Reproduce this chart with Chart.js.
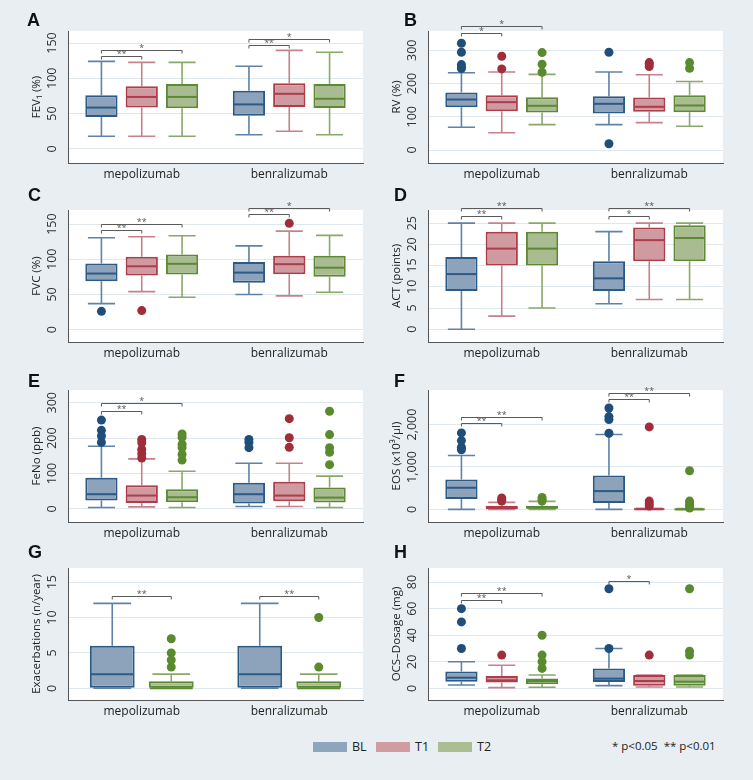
<!DOCTYPE html>
<html>
<head>
<meta charset="utf-8">
<script src="https://cdn.jsdelivr.net/npm/chart.js@4.4.0/dist/chart.umd.min.js"></script>
<style>
  body { margin: 0; width: 753px; height: 780px; background: #e8eef1; position: relative; overflow: hidden; font-family: "Open Sans", sans-serif; }
  canvas { position: absolute; }
  .sw { position: absolute; top: 742px; width: 34px; height: 10px; }
  .lg { position: absolute; top: 738px; font-size: 12.5px; color: #222; }
</style>
</head>
<body>
<canvas id="cA" width="376" height="180" style="left:0;top:0"></canvas>
<canvas id="cB" width="393" height="180" style="left:360px;top:0"></canvas>
<canvas id="cC" width="376" height="180" style="left:0;top:179px"></canvas>
<canvas id="cD" width="393" height="180" style="left:360px;top:179px"></canvas>
<canvas id="cE" width="376" height="180" style="left:0;top:359px"></canvas>
<canvas id="cF" width="393" height="180" style="left:360px;top:359px"></canvas>
<canvas id="cG" width="376" height="180" style="left:0;top:537px"></canvas>
<canvas id="cH" width="393" height="180" style="left:360px;top:537px"></canvas>

<div class="sw" style="left:313px;background:#8fa5bd"></div><div class="lg" style="left:352px">BL</div>
<div class="sw" style="left:376px;background:#d09ba1"></div><div class="lg" style="left:415px">T1</div>
<div class="sw" style="left:438px;background:#abbd93"></div><div class="lg" style="left:477px">T2</div>
<div class="lg" style="left:612px;font-size:11.5px">* p&lt;0.05 &nbsp;** p&lt;0.01</div>

<script>
const groups = ['mepolizumab', 'benralizumab'];

// box stats per group: [min, q1, median, q3, max]  (mepolizumab, benralizumab)
const fev1BL = [[18, 45, 58.5, 76, 124], [20, 47, 63, 82.5, 117]];
const fev1T1 = [[18, 58.5, 73.6, 88.7, 122.6], [25, 59.4, 78, 93, 139.6]];
const fev1T2 = [[18, 57.5, 73.6, 92, 122.6], [20, 58, 71, 92, 136.8]];
const fev1Sig = [[0, 0, 1, 132, '**'], [0, 0, 2, 140.6, '*'], [1, 0, 1, 147, '**'], [1, 0, 2, 155.7, '*']];
const fev1Ticks = [0, 50, 100, 150];

const rvBL = [[68.5, 129, 152, 173, 232.5], [76.5, 110, 139, 162, 234.5]];
const rvT1 = [[52, 117, 144, 165, 234.5], [82.5, 115, 130, 158, 226.5]];
const rvT2 = [[76.5, 113, 133, 159, 227.5], [71.5, 114, 134, 165, 206]];
const rvOutBL = [[321, 294, 257, 250, 245], [294, 19]];
const rvOutT1 = [[282, 244], [263, 259, 251]];
const rvOutT2 = [[293, 258, 234], [263, 246]];
const rvSig = [[0, 0, 1, 351, '*'], [0, 0, 2, 372, '*']];
const rvTicks = [0, 100, 200, 300];

const fvcBL = [[37, 68.8, 79.7, 94, 130.5], [50, 66.5, 81, 96, 119]];
const fvcT1 = [[54, 77, 90, 103.5, 132], [48, 78.8, 93, 105, 140]];
const fvcT2 = [[46, 78.3, 93.5, 106.8, 133.4], [53, 75, 88, 105, 134]];
const fvcOutBL = [[26], []];
const fvcOutT1 = [[27], [151]];
const fvcSig = [[0, 0, 1, 141.5, '**'], [0, 0, 2, 150, '**'], [1, 0, 1, 164, '**'], [1, 0, 2, 173, '*']];
const fvcTicks = [0, 50, 100, 150];

const actBL = [[0, 9, 13, 17, 25], [6, 9, 12, 16, 23]];
const actT1 = [[3.1, 15, 19, 23, 25], [7, 16, 21, 24, 25]];
const actT2 = [[5, 15, 19, 23, 25], [7, 16, 21.5, 24.5, 25]];
const actSig = [[0, 0, 1, 26.8, '**'], [0, 0, 2, 28.5, '**'], [1, 0, 1, 26.8, '*'], [1, 0, 2, 28.5, '**']];
const actTicks = [0, 5, 10, 15, 20, 25];

const fenoBL = [[4, 23.6, 41.5, 88, 177], [6.6, 15, 41.5, 73.6, 129]];
const fenoT1 = [[5.7, 17, 37.7, 67, 141.5], [6.6, 21.7, 37.7, 76.4, 129]];
const fenoT2 = [[4, 18.9, 33, 55.7, 106.6], [3.8, 18, 32, 60.4, 92.5]];
const fenoOutBL = [[251, 222, 206, 188], [196, 188, 173]];
const fenoOutT1 = [[196, 187, 168, 156, 144], [255, 201, 174]];
const fenoOutT2 = [[212, 202, 182, 173, 154, 138], [276, 210, 173, 160, 125]];
const fenoSig = [[0, 0, 1, 276, '**'], [0, 0, 2, 298, '*']];
const fenoTicks = [0, 100, 200, 300];

const eosBL = [[0, 243, 510, 706, 1270], [0, 149, 431, 800, 1765]];
const eosT1 = [[0, 8, 31, 86, 165], [0, 0, 5, 20, 24]];
const eosT2 = [[0, 16, 39, 86, 188], [0, 0, 0, 10, 20]];
const eosOutBL = [[1804, 1623, 1467, 1404], [2392, 2188, 2118, 1796]];
const eosOutT1 = [[267, 227, 196], [1945, 196, 133, 78]];
const eosOutT2 = [[282, 235, 196], [910, 196, 133, 78, 31]];
const eosSig = [[0, 0, 1, 2031, '**'], [0, 0, 2, 2172, '**'], [1, 0, 1, 2596, '**'], [1, 0, 2, 2745, '**']];
const eosTicks = [0, 1000, 2000];

const exaBL = [[0, 0, 2, 6, 12], [0, 0, 2, 6, 12]];
const exaT2 = [[0, 0, 0, 1, 2], [0, 0, 0, 1, 2]];
const exaOutT2 = [[7, 5, 4, 3], [10, 3]];
const exaSig = [[0, 0, 1, 13, '**'], [1, 0, 1, 13, '**']];
const exaTicks = [0, 5, 10, 15];

const ocsBL = [[2.5, 5, 8, 12.6, 20], [2, 4.8, 7.3, 15, 30]];
const ocsT1 = [[0.5, 4.3, 6, 9.3, 17.4], [1, 2, 5.5, 10, 10]];
const ocsT2 = [[0.75, 3, 5.5, 7.3, 10], [1, 2, 5, 10, 10]];
const ocsOutBL = [[60, 50, 30], [75, 30]];
const ocsOutT1 = [[25], [25]];
const ocsOutT2 = [[40, 25, 20, 15], [75, 28, 25]];
const ocsSig = [[0, 0, 1, 66.7, '**'], [0, 0, 2, 71.5, '**'], [1, 0, 1, 81, '*']];
const ocsTicks = [0, 20, 40, 60, 80];

const none = [[], []];

const colors = {
  BL: { fill: '#8ca3bb', line: '#2b5a87', whisker: '#5f82a6', dot: '#1f4e7a' },
  T1: { fill: '#cf9aa0', line: '#ad3d4b', whisker: '#c5828c', dot: '#a02d3a' },
  T2: { fill: '#a9bb90', line: '#5d8935', whisker: '#8aa86a', dot: '#5a8a2e' }
};

const panels = [
  { id: 'cA', letter: 'A', lx: 27, ly: 26, title: 'FEV\u2081 (%)', series: ['BL', 'T1', 'T2'],
    box: [fev1BL, fev1T1, fev1T2], out: [none, none, none], sig: fev1Sig, ticks: fev1Ticks, min: -20, max: 167 },
  { id: 'cB', letter: 'B', lx: 44, ly: 26, title: 'RV (%)', series: ['BL', 'T1', 'T2'],
    box: [rvBL, rvT1, rvT2], out: [rvOutBL, rvOutT1, rvOutT2], sig: rvSig, ticks: rvTicks, min: -39, max: 358 },
  { id: 'cC', letter: 'C', lx: 28, ly: 22, title: 'FVC (%)', series: ['BL', 'T1', 'T2'],
    box: [fvcBL, fvcT1, fvcT2], out: [fvcOutBL, fvcOutT1, none], sig: fvcSig, ticks: fvcTicks, min: -17.6, max: 170 },
  { id: 'cD', letter: 'D', lx: 34, ly: 22, title: 'ACT (points)', series: ['BL', 'T1', 'T2'],
    box: [actBL, actT1, actT2], out: [none, none, none], sig: actSig, ticks: actTicks, min: -3, max: 28.1 },
  { id: 'cE', letter: 'E', lx: 28, ly: 28, title: 'FeNo (ppb)', series: ['BL', 'T1', 'T2'],
    box: [fenoBL, fenoT1, fenoT2], out: [fenoOutBL, fenoOutT1, fenoOutT2], sig: fenoSig, ticks: fenoTicks, min: -37, max: 336 },
  { id: 'cF', letter: 'F', lx: 34, ly: 28, title: 'EOS (x10\u00b3/\u00b5l)', series: ['BL', 'T1', 'T2'],
    box: [eosBL, eosT1, eosT2], out: [eosOutBL, eosOutT1, eosOutT2], sig: eosSig, ticks: eosTicks, min: -298, max: 2816 },
  { id: 'cG', letter: 'G', lx: 28, ly: 21, title: 'Exacerbations (n/year)', series: ['BL', 'T2'],
    box: [exaBL, exaT2], out: [none, exaOutT2], sig: exaSig, ticks: exaTicks, min: -1.65, max: 17 },
  { id: 'cH', letter: 'H', lx: 34, ly: 21, title: 'OCS\u2013Dosage (mg)', series: ['BL', 'T1', 'T2'],
    box: [ocsBL, ocsT1, ocsT2], out: [ocsOutBL, ocsOutT1, ocsOutT2], sig: ocsSig, ticks: ocsTicks, min: -8.8, max: 90.6 }
];

const FONT = '"Open Sans", sans-serif';
const fmt = v => v.toLocaleString('en-US');
const measure = document.createElement('canvas').getContext('2d');
function tickPad(ticks) {
  measure.font = '12.5px ' + FONT;
  const w = Math.max(...ticks.map(v => measure.measureText(fmt(v)).width));
  return Math.max(0, 16 - w / 2);
}

function boxPlugin(p) {
  return {
    id: 'boxes' + p.letter,
    beforeDraw(chart) {
      const { ctx, chartArea: a } = chart;
      ctx.save();
      ctx.fillStyle = '#ffffff';
      ctx.fillRect(a.left, a.top, a.right - a.left, a.bottom - a.top);
      ctx.restore();
    },
    beforeDatasetsDraw(chart) {
      const { ctx } = chart;
      const y = chart.scales.y;
      chart.data.datasets.forEach((ds, i) => {
        const c = colors[ds.label];
        chart.getDatasetMeta(i).data.forEach((bar, j) => {
          const [lo, q1, , q3, hi] = ds.stats[j];
          const half = bar.width * 0.42;
          ctx.save();
          ctx.strokeStyle = c.whisker;
          ctx.lineWidth = 1.6;
          ctx.beginPath();
          ctx.moveTo(bar.x, y.getPixelForValue(q3));
          ctx.lineTo(bar.x, y.getPixelForValue(hi));
          ctx.moveTo(bar.x, y.getPixelForValue(q1));
          ctx.lineTo(bar.x, y.getPixelForValue(lo));
          ctx.moveTo(bar.x - half, y.getPixelForValue(hi));
          ctx.lineTo(bar.x + half, y.getPixelForValue(hi));
          ctx.moveTo(bar.x - half, y.getPixelForValue(lo));
          ctx.lineTo(bar.x + half, y.getPixelForValue(lo));
          ctx.stroke();
          ctx.restore();
        });
      });
    },
    afterDatasetsDraw(chart) {
      const { ctx } = chart;
      const y = chart.scales.y;
      chart.data.datasets.forEach((ds, i) => {
        const c = colors[ds.label];
        chart.getDatasetMeta(i).data.forEach((bar, j) => {
          const med = y.getPixelForValue(ds.stats[j][2]);
          ctx.save();
          ctx.strokeStyle = c.line;
          ctx.lineWidth = 2;
          ctx.beginPath();
          ctx.moveTo(bar.x - bar.width / 2 + 1, med);
          ctx.lineTo(bar.x + bar.width / 2 - 1, med);
          ctx.stroke();
          ctx.fillStyle = c.dot;
          ds.outliers[j].forEach(v => {
            ctx.beginPath();
            ctx.arc(bar.x, y.getPixelForValue(v), 4.5, 0, Math.PI * 2);
            ctx.fill();
          });
          ctx.restore();
        });
      });
      // significance brackets
      p.sig.forEach(([g, s1, s2, v, txt]) => {
        const b1 = chart.getDatasetMeta(s1).data[g];
        const b2 = chart.getDatasetMeta(s2).data[g];
        const yy = Math.round(y.getPixelForValue(v)) + 0.5;
        ctx.save();
        ctx.strokeStyle = '#5a5a5a';
        ctx.lineWidth = 1;
        ctx.beginPath();
        ctx.moveTo(b1.x, yy + 3);
        ctx.lineTo(b1.x, yy);
        ctx.lineTo(b2.x, yy);
        ctx.lineTo(b2.x, yy + 3);
        ctx.stroke();
        ctx.fillStyle = '#555';
        ctx.font = '9px ' + FONT;
        ctx.textAlign = 'center';
        ctx.textBaseline = 'bottom';
        ctx.fillText(txt, (b1.x + b2.x) / 2, yy + 2);
        ctx.restore();
      });
    },
    afterDraw(chart) {
      const { ctx } = chart;
      ctx.save();
      ctx.fillStyle = '#111';
      ctx.font = 'bold 18px "Liberation Sans", Arial, sans-serif';
      ctx.textBaseline = 'alphabetic';
      ctx.fillText(p.letter, p.lx, p.ly);
      ctx.restore();
    }
  };
}

panels.forEach(p => {
  const canvas = document.getElementById(p.id);
  const three = p.series.length === 3;
  new Chart(canvas, {
    type: 'bar',
    data: {
      labels: groups,
      datasets: p.series.map((s, i) => ({
        label: s,
        data: p.box[i].map(b => [b[1], b[3]]),
        stats: p.box[i],
        outliers: p.out[i],
        backgroundColor: colors[s].fill,
        borderColor: colors[s].line,
        borderWidth: 2,
        borderSkipped: false,
        categoryPercentage: three ? 0.82 : 0.8,
        barPercentage: three ? 0.8 : 0.76
      }))
    },
    options: {
      responsive: false,
      animation: false,
      events: [],
      layout: { padding: { top: 31, left: 0, right: canvas.width - 363, bottom: 0 } },
      plugins: { legend: { display: false }, tooltip: { enabled: false } },
      scales: {
        x: {
          grid: { display: false, drawTicks: false },
          border: { color: '#555', width: 1 },
          ticks: { font: { family: FONT, size: 12 }, color: '#222', padding: 4 },
          afterFit: s => { s.height = 17; }
        },
        y: {
          min: p.min,
          max: p.max,
          grid: { color: '#dfe8ed', drawTicks: false },
          border: { color: '#555', width: 1 },
          ticks: {
            font: { family: FONT, size: 12.5 }, color: '#333',
            minRotation: 90, maxRotation: 90, crossAlign: 'center',
            padding: tickPad(p.ticks), autoSkip: false,
            callback: v => fmt(v)
          },
          afterBuildTicks: s => { s.ticks = p.ticks.map(v => ({ value: v })); },
          afterFit: s => { s.width = 68; },
          title: { display: true, text: p.title, color: '#222', font: { family: FONT, size: 11.5 }, padding: { top: 30, bottom: 0 } }
        }
      }
    },
    plugins: [boxPlugin(p)]
  });
});
</script>
</body>
</html>
